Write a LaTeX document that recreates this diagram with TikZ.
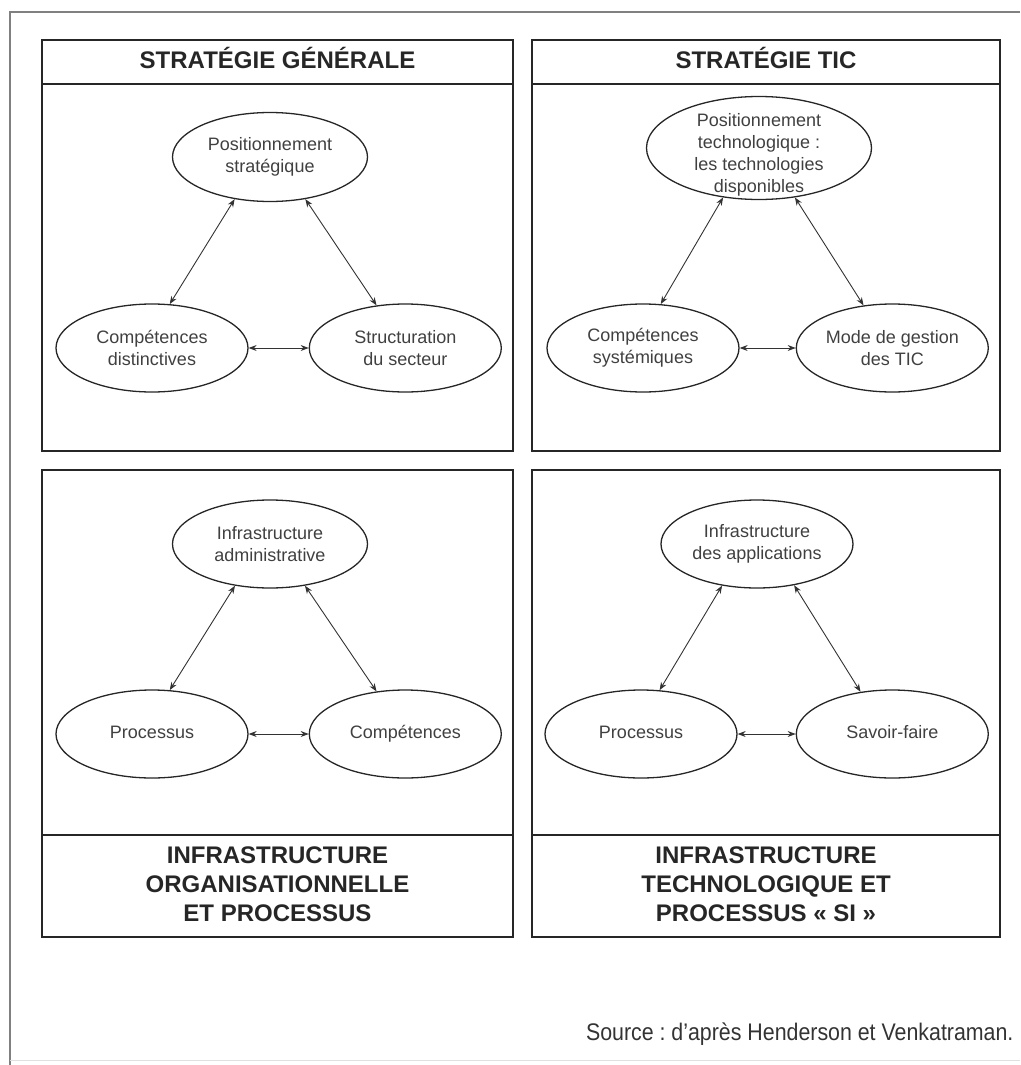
\documentclass[tikz,border=0pt]{standalone}
\usepackage{fontspec}
\usepackage{graphicx}
\setmainfont{Liberation Sans}
\usetikzlibrary{arrows.meta,positioning,shapes.geometric}
\frenchspacing

\begin{document}
\begin{tikzpicture}[x=1pt, y=1pt, >={Stealth[length=8pt,width=6pt]}]
        \tikzset{panel/.style={draw=black!85, line width=1.8pt},
            oval/.style={ellipse, draw=black!85, line width=1.3pt, minimum width=192pt, minimum height=88pt, inner sep=0pt},
            every label/.style={align=center, text=black!75, font=\fontsize{18}{22}\selectfont},
            headtxt/.style={align=center, text=black!85, font=\bfseries\fontsize{24}{29}\selectfont},
            link/.style={<->, black!80, line width=0.9pt}}
        \useasboundingbox (0,0) rectangle (1020,-1065);
        % page frame
        \draw[black!50, line width=1.5pt] (1020,-12) -- (10,-12) -- (10,-1065);
        \draw[black!12, line width=1pt] (10,-1060) -- (1020,-1060);
        % panels
        \draw[panel] (42,-40) rectangle (513,-451);
        \draw[panel] (42,-84) -- (513,-84);
        \draw[panel] (532,-40) rectangle (1000,-451);
        \draw[panel] (532,-84) -- (1000,-84);
        \draw[panel] (42,-470) rectangle (513,-937);
        \draw[panel] (42,-835) -- (513,-835);
        \draw[panel] (532,-470) rectangle (1000,-937);
        \draw[panel] (532,-835) -- (1000,-835);
        \node[headtxt, anchor=base] (hdgen) at (277.5,-68) {STRATÉGIE GÉNÉRALE};
        \node[headtxt, anchor=base] (hdtic) at (766,-68) {STRATÉGIE TIC};
        \node[headtxt] (ftorg) at (277.5,-884) {INFRASTRUCTURE\\ORGANISATIONNELLE\\ET PROCESSUS};
        \node[headtxt] (ftsi) at (766,-884) {INFRASTRUCTURE\\TECHNOLOGIQUE ET\\PROCESSUS «~SI~»};
        % strategie generale
        \node[oval, minimum width=195pt, minimum height=89pt, label={center:{Positionnement\\stratégique}}] (posgen) at (270,-157) {};
        \node[oval, label={center:{Compétences\\distinctives}}] (compgen) at (152,-348) {};
        \node[oval, right=60pt of compgen, label={center:{Structuration\\du secteur}}] (strucgen) {};
        \draw[link] (posgen.230) -- (compgen.68);
        \draw[link] (posgen.310) -- (strucgen.124);
        \draw[link] (compgen) -- (strucgen);
        % strategie TIC
        \node[oval, minimum width=225pt, minimum height=103pt, label={[yshift=-7pt]center:{Positionnement\\technologique :\\les technologies\\disponibles}}] (postic) at (759,-148) {};
        \node[oval, label={center:{Compétences\\systémiques}}] (comptic) at (643,-348) {};
        \node[oval, right=56pt of comptic, label={center:{Mode de gestion\\des TIC}}] (modetic) {};
        \draw[link] (postic.234) -- (comptic.68);
        \draw[link] (postic.306) -- (modetic.124);
        \draw[link] (comptic) -- (modetic);
        % infrastructure organisationnelle
        \node[oval, minimum width=195pt, label={center:{Infrastructure\\administrative}}] (infadm) at (270,-544) {};
        \node[oval, label={center:{Processus\strut}}] (procorg) at (152,-734) {};
        \node[oval, right=60pt of procorg, label={center:{Compétences\strut}}] (comporg) {};
        \draw[link] (infadm.230) -- (procorg.68);
        \draw[link] (infadm.310) -- (comporg.124);
        \draw[link] (procorg) -- (comporg);
        % infrastructure technologique
        \node[oval, label={center:{Infrastructure\\des applications}}] (infapp) at (757,-544) {};
        \node[oval, label={center:{Processus\strut}}] (procsi) at (641,-734) {};
        \node[oval, right=58pt of procsi, label={center:{Savoir-faire\strut}}] (savsi) {};
        \draw[link] (infapp.230) -- (procsi.67);
        \draw[link] (infapp.312) -- (savsi.127);
        \draw[link] (procsi) -- (savsi);
        \node[anchor=base east, text=black!80, font=\fontsize{24}{28}\selectfont] (source) at (1017,-1040) {\scalebox{0.89}[1]{Source : d'après Henderson et Venkatraman.}};
    \end{tikzpicture}
\end{document}
